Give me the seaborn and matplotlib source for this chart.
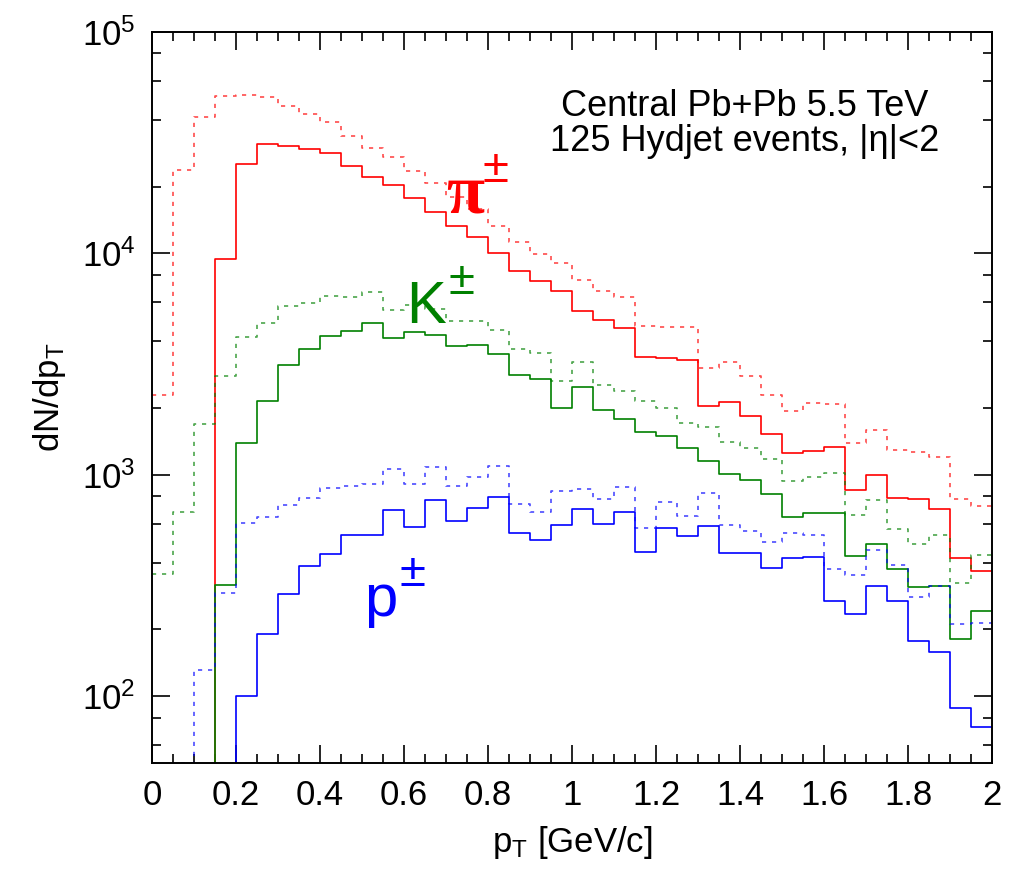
import numpy as np
import pandas as pd
import seaborn as sns
import matplotlib.pyplot as plt
from matplotlib.ticker import MultipleLocator, LogLocator, NullFormatter, FormatStrFormatter

# p_T bins, 0.05 GeV/c wide
pt_edges = np.linspace(0.0, 2.0, 41)

# dN/dp_T per bin; dotted = all particles, solid = selected (0 = off the axis)
pi_all = [2300, 23900, 41500, 51200, 51800, 51100, 46200, 42500, 39200, 33800,
          29900, 27300, 23600, 20800, 18000, 15900, 13300, 11300, 9940, 9050,
          7610, 6780, 6320, 4710, 4660, 4660, 3050, 3220, 2790, 2300,
          1940, 2100, 2080, 1385, 1590, 1300, 1270, 1200, 777, 719]
pi_sel = [0, 0, 0, 9430, 25300, 31100, 30700, 29700, 28300, 24700,
          22200, 20400, 17850, 15300, 13300, 11900, 10000, 8350, 7530, 6730,
          5510, 5000, 4580, 3410, 3370, 3300, 2050, 2140, 1850, 1530,
          1250, 1280, 1330, 855, 1000, 782, 777, 700, 419, 368]
k_all = [356, 678, 1695, 2800, 4170, 4830, 5760, 5940, 6440, 6320,
         6710, 5550, 5860, 5600, 4950, 4950, 4520, 3680, 3530, 2660,
         3240, 2550, 2400, 2160, 2000, 1720, 1650, 1410, 1320, 1180,
         940, 973, 1015, 660, 769, 566, 486, 536, 323, 434]
k_sel = [0, 0, 0, 316, 1385, 2160, 3130, 3700, 4250, 4440,
         4830, 4160, 4400, 4270, 3800, 3850, 3510, 2830, 2710, 2000,
         2480, 1970, 1780, 1560, 1490, 1315, 1157, 1007, 946, 818,
         641, 674, 674, 429, 489, 375, 310, 315, 181, 243]
p_all = [0, 50, 131, 292, 605, 641, 732, 782, 870, 890,
         908, 1057, 908, 1087, 892, 973, 1094, 737, 680, 841,
         862, 777, 883, 572, 750, 653, 825, 594, 555, 498,
         543, 534, 375, 352, 457, 392, 279, 315, 211, 213]
p_sel = [0, 0, 0, 0, 100, 190, 289, 387, 440, 532,
         532, 695, 580, 771, 615, 704, 796, 547, 505, 590,
         697, 602, 678, 446, 572, 526, 589, 443, 442, 379,
         419, 423, 270, 234, 315, 270, 177, 158, 88, 72.7]

sns.set_style('ticks', {'xtick.direction': 'in', 'ytick.direction': 'in',
                        'axes.edgecolor': 'black', 'text.color': 'black',
                        'axes.labelcolor': 'black', 'xtick.color': 'black',
                        'ytick.color': 'black'})
plt.rcParams['font.family'] = ['Liberation Sans', 'DejaVu Sans']
plt.rcParams['mathtext.fontset'] = 'custom'
plt.rcParams['mathtext.rm'] = 'Liberation Sans'
plt.rcParams['mathtext.it'] = 'Liberation Sans:italic'

fig = plt.figure(figsize=(10.1, 8.74), dpi=100)
ax = fig.add_axes([0.1505, 0.1273, 0.8317, 0.8361])

dots = (0, (2.5, 3.5))
series = [
    (pi_all, 'red', dots, 0.7), (pi_sel, 'red', '-', 1.0),
    (k_all, 'green', dots, 0.7), (k_sel, 'green', '-', 1.0),
    (p_all, 'blue', dots, 0.7), (p_sel, 'blue', '-', 1.0),
]
for vals, col, ls, a in series:
    df = pd.DataFrame({'pt': pt_edges, 'n': list(vals) + [vals[-1]]})
    sns.lineplot(data=df, x='pt', y='n', drawstyle='steps-post', color=col,
                 linestyle=ls, lw=1.2, alpha=a, estimator=None, ax=ax)

ax.set_yscale('log')
ax.set_xlim(0, 2)
ax.set_ylim(50, 1e5)

ax.xaxis.set_major_locator(MultipleLocator(0.2))
ax.xaxis.set_minor_locator(MultipleLocator(0.05))
ax.xaxis.set_major_formatter(FormatStrFormatter('%g'))
ax.yaxis.set_minor_locator(LogLocator(subs=[2, 4, 6, 8]))
ax.yaxis.set_minor_formatter(NullFormatter())
ax.tick_params(which='both', direction='in', top=True, right=True, width=1.2,
               colors='black')
ax.tick_params(which='major', length=13, labelsize=25, pad=12)
ax.tick_params(which='minor', length=6.5)
for s in ax.spines.values():
    s.set_linewidth(1.4)
    s.set_color('black')

ax.set_xlabel(r'p$_\mathregular{T}$ [GeV/c]', fontsize=25, labelpad=8)
ax.set_ylabel(r'dN/dp$_\mathregular{T}$', fontsize=25, labelpad=10)

# header text
ax.text(0.706, 0.885, 'Central Pb+Pb 5.5 TeV', transform=ax.transAxes,
        ha='center', va='baseline', fontsize=26)
ax.text(0.706, 0.8365, '125 Hydjet events, |η|<2', transform=ax.transAxes,
        ha='center', va='baseline', fontsize=26)

# particle labels
ax.text(0.700, 15300, 'π', color='red', fontsize=50, family='Liberation Serif',
        fontweight='bold', va='baseline')
ax.text(0.787, 20900, '±', color='red', fontsize=34, va='baseline')
ax.text(0.605, 4860, 'K', color='green', fontsize=43, va='baseline')
ax.text(0.705, 6580, '±', color='green', fontsize=34, va='baseline')
ax.text(0.505, 231, 'p', color='blue', fontsize=43, va='baseline')
ax.text(0.590, 315, '±', color='blue', fontsize=34, va='baseline')

fig.savefig('out.png', dpi=100)
